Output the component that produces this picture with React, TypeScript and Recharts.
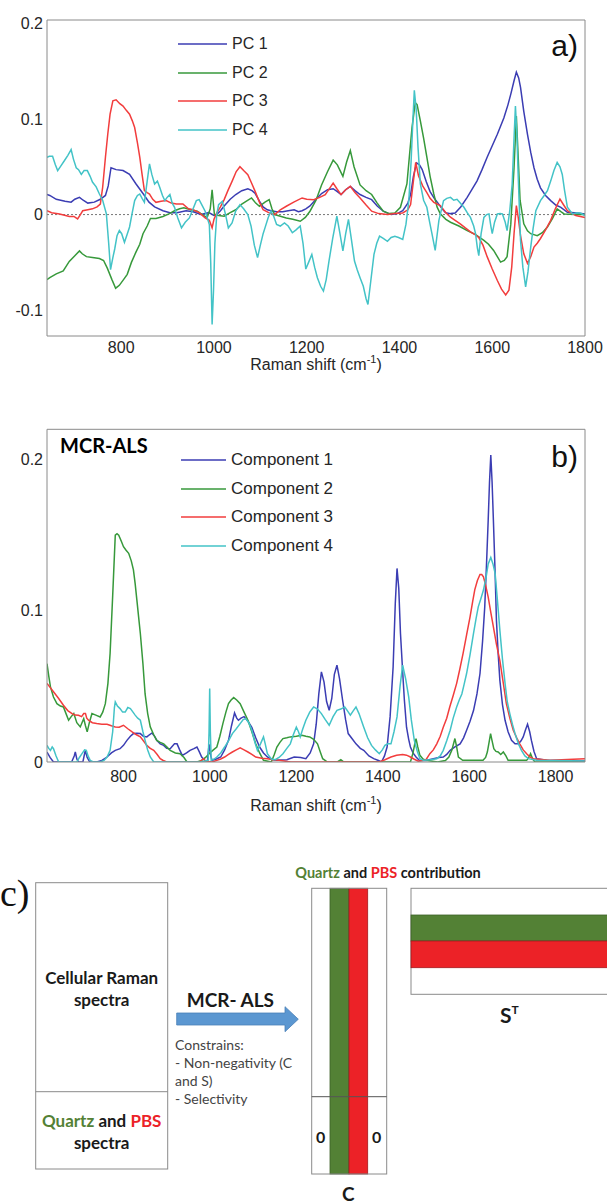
import { LineChart, Line, XAxis, YAxis, ReferenceLine, Legend, Label } from 'recharts'

type Pt = [number, number]

const SANS = '"Liberation Sans", Arial, Helvetica, sans-serif'
const CAL = 'Lato, "Open Sans", sans-serif'
const FRAME = '#8a8a8a'
const INK = '#262626'
const GREEN = '#538135'
const RED = '#ec2227'

const lineColors = ['#3b3db3', '#37993b', '#f23d3d', '#43c3c7']
const pcNames = ['PC 1', 'PC 2', 'PC 3', 'PC 4']
const componentNames = ['Component 1', 'Component 2', 'Component 3', 'Component 4']

const shiftTicks = [800, 1000, 1200, 1400, 1600, 1800]
const loadingTicks = [-0.1, 0, 0.1, 0.2]
const intensityTicks = [0, 0.1, 0.2]

// a) PCA loadings
const pc1: Pt[] = [[640,0.021],[646,0.02],[660,0.016],[679,0.014],[692,0.013],[700,0.016],[710,0.018],[718,0.015],[728,0.012],[742,0.013],[755,0.016],[766,0.02],[772,0.03],[778,0.049],[789,0.047],[804,0.046],[818,0.042],[832,0.032],[847,0.022],[860,0.013],[872,0.008],[890,0.004],[905,0.002],[920,0.002],[940,0.004],[955,0.003],[972,0],[989,0.002],[1000,-0.001],[1006,0],[1014,0.004],[1022,0.009],[1035,0.016],[1047,0.021],[1060,0.025],[1073,0.027],[1082,0.025],[1089,0.022],[1098,0.014],[1106,0.008],[1115,0.005],[1123,0.004],[1135,0.003],[1148,0.003],[1160,0.004],[1173,0.005],[1182,0.003],[1190,0.004],[1198,0.006],[1207,0.009],[1220,0.016],[1232,0.022],[1245,0.026],[1257,0.027],[1266,0.024],[1274,0.021],[1284,0.026],[1294,0.0295],[1304,0.025],[1315,0.021],[1328,0.018],[1340,0.0156],[1352,0.009],[1365,0.0035],[1382,0],[1395,0.001],[1407,0.004],[1418,0.012],[1424,0.021],[1430,0.04],[1437,0.054],[1443,0.052],[1449,0.047],[1458,0.034],[1466,0.024],[1475,0.017],[1483,0.012],[1492,0.006],[1499,0.002],[1510,0.001],[1520,0.0017],[1532,0.008],[1546,0.018],[1556,0.026],[1567,0.035],[1578,0.047],[1589,0.06],[1600,0.072],[1611,0.084],[1625,0.101],[1634,0.115],[1640,0.126],[1647,0.14],[1652,0.149],[1657,0.143],[1661,0.133],[1668,0.108],[1676,0.084],[1683,0.065],[1690,0.049],[1697,0.037],[1704,0.028],[1715,0.02],[1726,0.0146],[1737,0.01],[1748,0.0076],[1762,0.0024],[1784,0.0017],[1800,0.0007]]
const pc2: Pt[] = [[640,-0.068],[646,-0.066],[660,-0.062],[675,-0.059],[688,-0.049],[700,-0.043],[710,-0.038],[716,-0.041],[725,-0.044],[738,-0.045],[753,-0.046],[762,-0.048],[770,-0.056],[780,-0.068],[788,-0.077],[796,-0.074],[805,-0.068],[813,-0.0625],[822,-0.05],[832,-0.039],[840,-0.031],[847,-0.02],[856,-0.012],[863,-0.004],[875,-0.004],[890,-0.002],[904,0.001],[915,0.004],[926,0.006],[935,0.007],[950,0.005],[964,0.0035],[975,0],[985,-0.0035],[992,0.006],[996,0.026],[999,0.01],[1001,0],[1010,-0.001],[1022,-0.0017],[1035,0.002],[1047,0.005],[1060,0.011],[1070,0.014],[1081,0.0174],[1090,0.012],[1098,0.0087],[1110,0.013],[1119,0.0156],[1125,0.006],[1131,0],[1145,-0.002],[1156,-0.0035],[1170,-0.005],[1186,-0.007],[1197,-0.003],[1207,0.0035],[1220,0.015],[1232,0.031],[1245,0.045],[1257,0.057],[1266,0.052],[1278,0.04],[1286,0.055],[1294,0.067],[1302,0.05],[1315,0.031],[1328,0.025],[1340,0.021],[1352,0.012],[1365,0.0035],[1378,0.001],[1390,0.0017],[1402,0.0076],[1416,0.032],[1427,0.091],[1434,0.117],[1438,0.115],[1445,0.098],[1452,0.08],[1459,0.06],[1466,0.04],[1474,0.0215],[1481,0.008],[1488,0.0007],[1500,-0.005],[1510,-0.008],[1528,-0.012],[1546,-0.0167],[1564,-0.021],[1582,-0.027],[1592,-0.031],[1603,-0.0375],[1611,-0.044],[1618,-0.0497],[1626,-0.048],[1632,-0.044],[1640,-0.01],[1647,0.049],[1652,0.103],[1656,0.06],[1660,0.015],[1668,-0.0097],[1676,-0.017],[1683,-0.02],[1697,-0.022],[1708,-0.019],[1719,-0.013],[1730,-0.004],[1740,0.006],[1748,0.003],[1755,0.0007],[1780,0],[1800,0]]
const pc3: Pt[] = [[640,0.004],[650,0.002],[667,0.0007],[680,-0.001],[688,-0.002],[698,-0.002],[706,-0.0045],[712,0],[717,0.004],[728,0.005],[738,0.006],[748,0.008],[755,0.011],[760,0.0285],[766,0.06],[771,0.084],[776,0.105],[782,0.119],[789,0.12],[797,0.116],[804,0.1135],[811,0.109],[818,0.105],[824,0.098],[829,0.091],[835,0.075],[840,0.06],[845,0.042],[850,0.025],[856,0.023],[861,0.0215],[868,0.016],[875,0.0128],[886,0.014],[897,0.0146],[908,0.012],[919,0.011],[933,0.011],[945,0.006],[955,0.005],[968,0.002],[981,-0.0035],[990,-0.006],[996,-0.0139],[1000,-0.005],[1006,0.0017],[1014,0.008],[1022,0.0156],[1030,0.025],[1039,0.0347],[1048,0.045],[1056,0.05],[1064,0.046],[1073,0.0417],[1081,0.033],[1089,0.024],[1098,0.013],[1106,0.005],[1118,0.002],[1131,0],[1143,0.005],[1156,0.0087],[1172,0.013],[1190,0.0174],[1200,0.016],[1215,0.0156],[1228,0.018],[1240,0.0208],[1250,0.028],[1257,0.033],[1265,0.027],[1274,0.0208],[1284,0.026],[1294,0.0295],[1304,0.023],[1315,0.0174],[1328,0.01],[1340,0.0035],[1355,0.001],[1374,0],[1390,0.001],[1407,0.0017],[1418,0.005],[1424,0.0104],[1430,0.035],[1435,0.0545],[1441,0.0406],[1450,0.03],[1459,0.023],[1466,0.017],[1474,0.0128],[1488,0.0094],[1500,0.002],[1510,-0.0028],[1520,-0.006],[1531,-0.0097],[1542,-0.014],[1553,-0.018],[1563,-0.021],[1571,-0.024],[1580,-0.032],[1589,-0.044],[1600,-0.057],[1611,-0.069],[1620,-0.078],[1629,-0.084],[1636,-0.079],[1642,-0.055],[1647,-0.02],[1652,0.0094],[1656,-0.003],[1661,-0.022],[1668,-0.041],[1676,-0.051],[1683,-0.044],[1690,-0.034],[1697,-0.03],[1704,-0.025],[1715,-0.016],[1726,-0.006],[1736,0.006],[1746,0.0163],[1754,0.01],[1762,0.004],[1780,-0.001],[1800,-0.003]]
const pc4: Pt[] = [[640,0.06],[645,0.061],[652,0.061],[658,0.052],[663,0.046],[670,0.051],[677,0.056],[685,0.062],[692,0.068],[697,0.058],[703,0.049],[708,0.047],[714,0.042],[720,0.046],[727,0.046],[733,0.04],[738,0.034],[746,0.029],[753,0.0215],[760,0.015],[768,0.0007],[773,-0.03],[777,-0.0576],[782,-0.045],[786,-0.036],[791,-0.022],[796,-0.0167],[801,-0.02],[807,-0.029],[812,-0.022],[818,-0.013],[823,0],[829,0.0146],[835,0.02],[840,0.0215],[845,0.017],[850,0.0128],[856,0.035],[861,0.053],[866,0.042],[872,0.032],[878,0.035],[883,0.0285],[889,0.02],[894,0.0146],[899,0.018],[905,0.021],[910,0.012],[915,0.0076],[922,-0.0035],[930,-0.0139],[938,-0.008],[947,-0.0035],[955,0.006],[962,0.0146],[968,0.0156],[975,0.009],[981,0.0035],[986,-0.004],[990,-0.0104],[993,-0.05],[996,-0.115],[999,-0.08],[1002,-0.03],[1006,0],[1010,0.0104],[1018,0.0139],[1025,0],[1031,-0.0139],[1039,-0.0087],[1047,0.004],[1056,0.0104],[1064,0.006],[1073,0],[1080,-0.012],[1087,-0.032],[1094,-0.045],[1100,-0.032],[1106,-0.02],[1110,-0.0139],[1117,-0.003],[1123,0.0035],[1129,-0.002],[1135,-0.0104],[1143,-0.012],[1152,-0.0087],[1160,-0.012],[1169,-0.019],[1177,-0.016],[1186,-0.012],[1192,-0.03],[1198,-0.057],[1204,-0.05],[1211,-0.0417],[1217,-0.055],[1223,-0.066],[1230,-0.075],[1236,-0.08],[1242,-0.068],[1248,-0.0486],[1256,-0.025],[1265,-0.0017],[1271,-0.018],[1278,-0.038],[1284,-0.02],[1290,-0.005],[1296,-0.025],[1303,-0.0486],[1309,-0.058],[1315,-0.066],[1322,-0.075],[1328,-0.088],[1332,-0.094],[1338,-0.07],[1345,-0.0417],[1351,-0.03],[1357,-0.0226],[1365,-0.025],[1374,-0.028],[1382,-0.024],[1390,-0.0226],[1398,-0.024],[1407,-0.026],[1414,-0.01],[1420,0.0139],[1425,0.055],[1429,0.1],[1432,0.13],[1436,0.11],[1440,0.07],[1445,0.032],[1452,0.015],[1459,0.0076],[1465,-0.008],[1470,-0.02],[1477,-0.0375],[1485,-0.006],[1495,0.0146],[1502,0.017],[1510,0.018],[1517,0.015],[1524,0.016],[1531,0.012],[1539,0.0076],[1546,0.002],[1553,-0.003],[1560,-0.012],[1564,-0.02],[1568,-0.035],[1571,-0.043],[1576,-0.02],[1582,-0.003],[1588,0],[1593,0.0007],[1597,-0.012],[1600,-0.02],[1605,-0.008],[1611,0.0007],[1617,0.001],[1622,0.0007],[1628,-0.008],[1632,-0.0167],[1638,0.005],[1643,0.032],[1647,0.08],[1650,0.1135],[1653,0.085],[1656,0.04],[1661,-0.027],[1666,-0.055],[1672,-0.0757],[1677,-0.06],[1683,-0.034],[1688,-0.015],[1694,0.004],[1704,0.0146],[1712,0.02],[1719,0.025],[1726,0.035],[1733,0.046],[1740,0.0545],[1746,0.05],[1751,0.042],[1756,0.025],[1762,0.0076],[1773,0.0007],[1783,0.002],[1791,0.0014],[1800,-0.001]]

// b) MCR-ALS resolved spectra
const comp1: Pt[] = [[623,0.0066],[630,0.003],[638,0],[680,0],[686,0.004],[688.5,0.0066],[692,0.002],[696,0],[706,0],[711.6,0.0077],[716,0.003],[722,0],[738,0],[750,0.001],[762,0.0033],[772,0.006],[781,0.0077],[792,0.0088],[800,0.011],[808,0.0143],[816,0.017],[823,0.0188],[831,0.019],[839,0.0188],[846,0.017],[854,0.0166],[860,0.018],[866,0.0192],[872,0.017],[877,0.0143],[885,0.012],[893,0.011],[900,0.009],[908,0.0088],[918,0.012],[924,0.012],[930,0.008],[936,0.0044],[946,0.006],[954,0.0077],[963,0.0088],[970,0.0099],[975,0.007],[981,0.0033],[988,0.001],[994,0],[998,0.0117],[1002,0.004],[1005,0.0011],[1015,0.002],[1025,0.0033],[1034,0.008],[1043,0.0143],[1050,0.024],[1057,0.0325],[1062,0.029],[1066,0.0276],[1072,0.029],[1079,0.03],[1088,0.027],[1097,0.023],[1106,0.016],[1115,0.0099],[1124,0.006],[1133,0.0033],[1142,0.002],[1151,0.0011],[1165,0.0013],[1178,0.0015],[1195,0.0033],[1210,0.003],[1222,0.0022],[1232,0.006],[1240,0.012],[1246,0.025],[1252,0.045],[1258,0.0596],[1264,0.053],[1270,0.04],[1276,0.0342],[1282,0.042],[1288,0.058],[1294,0.064],[1300,0.055],[1307,0.041],[1314,0.028],[1320,0.0188],[1330,0.015],[1338,0.012],[1348,0.009],[1356,0.0077],[1368,0.004],[1379,0.0022],[1390,0.001],[1397,0],[1404,0.004],[1410,0.0099],[1417,0.03],[1424,0.063],[1429,0.105],[1433,0.128],[1437,0.115],[1441,0.085],[1446,0.06],[1450,0.041],[1455,0.023],[1460,0.015],[1464,0.0099],[1470,0.006],[1477,0.0033],[1485,0.001],[1500,0.001],[1517,0.0022],[1530,0.003],[1540,0.0033],[1548,0.005],[1556,0.0077],[1567,0.01],[1579,0.012],[1587,0.016],[1594,0.021],[1602,0.027],[1610,0.034],[1618,0.045],[1625,0.0585],[1631,0.08],[1636,0.1026],[1640,0.13],[1644,0.16],[1647,0.185],[1650,0.203],[1653,0.185],[1656,0.16],[1660,0.125],[1663,0.094],[1667,0.072],[1671,0.054],[1677,0.038],[1683,0.0276],[1690,0.02],[1698,0.0143],[1706,0.012],[1714,0.012],[1720,0.014],[1725,0.0166],[1730,0.021],[1735,0.025],[1740,0.02],[1744,0.0143],[1750,0.007],[1756,0.0022],[1779,0.0011],[1820,0.0009],[1868,0.0007]]
const comp2: Pt[] = [[623,0.065],[627,0.057],[631,0.0497],[638,0.043],[646,0.0386],[654,0.037],[661,0.0364],[667,0.032],[673,0.0276],[679,0.03],[685,0.032],[692,0.026],[700,0.0232],[704,0.026],[708,0.0287],[712,0.024],[716,0.0199],[721,0.026],[727,0.032],[736,0.031],[746,0.0298],[752,0.033],[758,0.0386],[764,0.052],[769,0.0717],[775,0.11],[781,0.15],[785,0.151],[789,0.15],[795,0.146],[800,0.1424],[806,0.14],[812,0.138],[818,0.133],[823,0.127],[827,0.118],[831,0.107],[835,0.096],[839,0.085],[845,0.065],[850,0.045],[856,0.032],[862,0.0232],[870,0.018],[877,0.0143],[885,0.013],[893,0.012],[900,0.01],[908,0.0077],[920,0.006],[931,0.0055],[940,0.003],[947,0],[970,0],[981,0.0011],[990,0.003],[998,0.0055],[1008,0.008],[1016,0.0099],[1023,0.017],[1030,0.0254],[1037,0.033],[1043,0.0386],[1049,0.041],[1055,0.0426],[1062,0.041],[1070,0.0386],[1079,0.033],[1088,0.0276],[1097,0.02],[1106,0.012],[1115,0.006],[1124,0.0011],[1142,0],[1149,0.005],[1155,0.0099],[1162,0.013],[1169,0.0155],[1178,0.016],[1186,0.0166],[1200,0.017],[1213,0.0177],[1222,0.017],[1231,0.0166],[1240,0.015],[1249,0.012],[1255,0.007],[1261,0.0022],[1272,0],[1295,0],[1303,0.0015],[1310,0],[1464,0],[1470,0.006],[1474,0.012],[1477,0.0155],[1481,0.01],[1486,0.0044],[1493,0.002],[1500,0.0011],[1527,0],[1545,0.001],[1553,0.0033],[1560,0.008],[1567,0.0155],[1571,0.01],[1575,0.0033],[1585,0.0011],[1632,0.0011],[1638,0.003],[1642,0.0066],[1646,0.013],[1649.5,0.0188],[1653,0.014],[1657,0.0088],[1662,0.007],[1667,0.0066],[1673,0.005],[1679,0.0066],[1685,0.004],[1690,0.0011],[1733,0.0011],[1738,0.003],[1742,0.0055],[1747,0.002],[1752,0],[1868,0]]
const comp3: Pt[] = [[623,0.052],[631,0.049],[638,0.0464],[650,0.042],[661,0.0375],[671,0.034],[681,0.032],[688,0.031],[696,0.0309],[703,0.03],[708,0.032],[712,0.032],[715,0.029],[719,0.0276],[728,0.026],[738,0.0254],[750,0.025],[762,0.025],[772,0.024],[781,0.0232],[790,0.023],[800,0.0243],[810,0.022],[820,0.0199],[830,0.018],[839,0.0166],[846,0.014],[854,0.011],[862,0.009],[870,0.0077],[878,0.005],[885,0.0022],[892,0.001],[900,0],[975,0],[985,0.0022],[990,0.0005],[1005,0],[1016,0.0011],[1025,0.002],[1034,0.0033],[1043,0.005],[1052,0.0066],[1061,0.008],[1070,0.0093],[1079,0.008],[1088,0.0066],[1097,0.005],[1106,0.0033],[1120,0.0025],[1133,0.0022],[1146,0.0015],[1160,0.0011],[1175,0.0005],[1187,0],[1392,0],[1405,0.0015],[1419,0.0033],[1432,0.0045],[1446,0.005],[1455,0.0045],[1464,0.0033],[1472,0.002],[1482,0.0005],[1492,0.001],[1500,0.0015],[1509,0.0055],[1517,0.008],[1525,0.012],[1533,0.017],[1540,0.023],[1548,0.029],[1555,0.0364],[1563,0.044],[1571,0.052],[1578,0.061],[1586,0.072],[1594,0.084],[1602,0.096],[1608,0.106],[1613,0.114],[1619,0.12],[1625,0.124],[1629,0.124],[1633,0.1225],[1638,0.117],[1644,0.109],[1650,0.099],[1656,0.0894],[1663,0.078],[1671,0.067],[1679,0.052],[1686,0.0386],[1694,0.029],[1702,0.021],[1710,0.016],[1717,0.012],[1725,0.008],[1733,0.0055],[1740,0.0035],[1748,0.0022],[1787,0.0011],[1868,0.0022]]
const comp4: Pt[] = [[623,0.011],[627,0.009],[631,0.0077],[635,0.01],[638,0.0088],[644,0.004],[650,0],[692,0],[698,0.003],[704,0.0055],[710,0.008],[714,0.0077],[718,0.004],[723,0.0011],[730,0],[746,0],[755,0.001],[762,0.0033],[769,0.0077],[775,0.02],[779,0.036],[781,0.0397],[786,0.037],[792,0.0353],[798,0.033],[804,0.033],[810,0.036],[816,0.0353],[822,0.033],[827,0.031],[833,0.029],[839,0.0276],[845,0.02],[850,0.0143],[856,0.008],[862,0.0033],[870,0],[980,0],[996,0.0011],[998,0.02],[999.5,0.0486],[1001,0.02],[1003,0.0011],[1010,0.002],[1016,0.0033],[1025,0.006],[1034,0.0099],[1043,0.014],[1052,0.0188],[1061,0.022],[1070,0.0254],[1077,0.028],[1083,0.0287],[1090,0.026],[1097,0.021],[1104,0.013],[1110,0.0077],[1117,0.012],[1124,0.0166],[1128,0.012],[1133,0.0055],[1142,0.002],[1151,0.0015],[1160,0.003],[1169,0.0055],[1178,0.009],[1186,0.012],[1193,0.018],[1200,0.023],[1205,0.02],[1209,0.0166],[1215,0.022],[1222,0.0276],[1231,0.033],[1240,0.0364],[1249,0.035],[1258,0.032],[1267,0.028],[1276,0.0243],[1285,0.03],[1294,0.0342],[1303,0.035],[1312,0.0364],[1318,0.034],[1325,0.031],[1332,0.034],[1338,0.0364],[1345,0.032],[1350,0.028],[1356,0.023],[1365,0.016],[1374,0.011],[1383,0.008],[1392,0.0055],[1399,0.008],[1405,0.011],[1412,0.012],[1419,0.012],[1426,0.02],[1433,0.0298],[1440,0.05],[1446,0.064],[1453,0.055],[1460,0.043],[1466,0.028],[1473,0.0143],[1480,0.007],[1486,0.0022],[1494,0.0011],[1510,0.0015],[1525,0.0022],[1533,0.004],[1540,0.0077],[1548,0.014],[1556,0.021],[1563,0.029],[1571,0.0364],[1577,0.041],[1583,0.045],[1588,0.051],[1594,0.0585],[1602,0.071],[1610,0.085],[1616,0.095],[1621,0.1026],[1627,0.108],[1633,0.1137],[1639,0.122],[1644,0.131],[1650,0.1353],[1655,0.131],[1660,0.1247],[1665,0.108],[1671,0.087],[1677,0.068],[1683,0.052],[1688,0.04],[1694,0.032],[1700,0.025],[1706,0.0188],[1714,0.012],[1721,0.0077],[1729,0.004],[1737,0.0022],[1756,0.0011],[1800,0.001],[1868,0.0007]]

const toRows = (pts: Pt[]) => pts.map(([x, y]) => ({ x, y }))

function LegendBox({ payload, lineW, gap, fontSize, rowH }: any) {
  return (
    <div style={{ fontFamily: SANS, fontSize, color: INK }}>
      {(payload || []).map((p: any) => (
        <div key={p.value} style={{ display: 'flex', alignItems: 'center', height: rowH }}>
          <svg width={lineW} height={4} style={{ marginRight: gap }}>
            <line x1={0} x2={lineW} y1={2} y2={2} stroke={p.color} strokeWidth={1.6} />
          </svg>
          <span>{p.value}</span>
        </div>
      ))}
    </div>
  )
}

function AxisTitle({ viewBox, dy }: any) {
  const cx = viewBox.x + viewBox.width / 2
  return (
    <text x={cx} y={viewBox.y + dy} textAnchor="middle" fontFamily={SANS} fontSize={16} fill={INK}>
      Raman shift (cm<tspan dy={-7} fontSize={11}>-1</tspan><tspan dy={7}>)</tspan>
    </text>
  )
}

function SpectraPanel(props: {
  series: Pt[][]
  names: string[]
  xDomain: [number, number]
  yDomain: [number, number]
  yTicks: number[]
  height: number
  top: number
  axisH: number
  tickGap: number
  titleDy: number
  legendLeft: number
  legendTop: number
  legendLine: number
  legendFont: number
  zero?: boolean
}) {
  const { series, names, xDomain, yDomain, yTicks, height, top, axisH, tickGap, titleDy } = props
  const tickStyle = { fontFamily: SANS, fontSize: 16, fill: INK }
  return (
    <LineChart width={607} height={height} margin={{ top, right: 22, bottom: 0, left: 0 }}>
      <XAxis xAxisId="x" type="number" dataKey="x" domain={xDomain} ticks={shiftTicks} allowDataOverflow
        height={axisH} tickLine={false} axisLine={false} tickSize={0} tickMargin={tickGap} tick={tickStyle}>
        <Label content={(p: any) => <AxisTitle viewBox={p.viewBox} dy={titleDy} />} />
      </XAxis>
      <XAxis xAxisId="xb" type="number" dataKey="x" orientation="bottom" mirror domain={xDomain} ticks={shiftTicks}
        allowDataOverflow tick={false} tickSize={5} tickLine={{ stroke: FRAME }} axisLine={{ stroke: FRAME }} />
      <XAxis xAxisId="xt" type="number" dataKey="x" orientation="top" mirror domain={xDomain} ticks={shiftTicks}
        allowDataOverflow tick={false} tickSize={5} tickLine={{ stroke: FRAME }} axisLine={{ stroke: FRAME }} />
      <YAxis yAxisId="y" type="number" domain={yDomain} ticks={yTicks} allowDataOverflow width={47}
        tickLine={false} axisLine={false} tickSize={0} tickMargin={4} tick={tickStyle} />
      <YAxis yAxisId="yl" type="number" orientation="left" mirror domain={yDomain} ticks={yTicks} allowDataOverflow
        tick={false} tickSize={5} tickLine={{ stroke: FRAME }} axisLine={{ stroke: FRAME }} />
      <YAxis yAxisId="yr" type="number" orientation="right" mirror domain={yDomain} ticks={yTicks} allowDataOverflow
        tick={false} tickSize={5} tickLine={{ stroke: FRAME }} axisLine={{ stroke: FRAME }} />
      {props.zero && (
        <ReferenceLine xAxisId="x" yAxisId="y" y={0} stroke="#777" strokeDasharray="2 2" strokeWidth={1} />
      )}
      {series.map((pts, i) => (
        <Line key={names[i]} xAxisId="x" yAxisId="y" data={toRows(pts)} dataKey="y" name={names[i]}
          type="linear" stroke={lineColors[i]} strokeWidth={1.5} dot={false} isAnimationActive={false} />
      ))}
      <Legend layout="vertical" align="center" verticalAlign="middle"
        wrapperStyle={{ left: props.legendLeft, top: props.legendTop, width: 'auto', height: 'auto' }}
        content={(p: any) => (
          <LegendBox payload={p.payload} lineW={props.legendLine} gap={5} fontSize={props.legendFont} rowH={28.6} />
        )} />
    </LineChart>
  )
}

function Diagram() {
  const txt = { fontFamily: CAL, fontWeight: 700, fill: '#1a1a1a' } as const
  const small = { fontFamily: CAL, fontSize: 14, fill: '#444' } as const
  return (
    <svg width={607} height={1204} style={{ position: 'absolute', left: 0, top: 0, pointerEvents: 'none' }}>
      <text x={578} y={56} textAnchor="end" fontFamily={SANS} fontSize={30} fill="#111">a)</text>
      <text x={578} y={467} textAnchor="end" fontFamily={SANS} fontSize={30} fill="#111">b)</text>
      <text x={60} y={453} fontSize={20} {...txt} fill="#000">MCR-ALS</text>

      <text x={0} y={906} fontFamily='"Liberation Serif", serif' fontSize={38} fill="#111">c)</text>

      <rect x={35.7} y={882.7} width={132} height={286.3} fill="none" stroke={FRAME} />
      <line x1={35.7} x2={167.7} y1={1091.7} y2={1091.7} stroke={FRAME} />
      <text x={101.7} y={984} textAnchor="middle" fontSize={17} {...txt}>Cellular Raman</text>
      <text x={101.7} y={1006} textAnchor="middle" fontSize={17} {...txt}>spectra</text>
      <text x={101.7} y={1127} textAnchor="middle" fontSize={17} {...txt}>
        <tspan fill={GREEN}>Quartz</tspan> and <tspan fill={RED}>PBS</tspan>
      </text>
      <text x={101.7} y={1149} textAnchor="middle" fontSize={17} {...txt}>spectra</text>

      <text x={186.7} y={1007} fontSize={19} {...txt}>MCR- ALS</text>
      <polygon points="176.7,1013 285,1013 285,1006.7 298.3,1019.2 285,1031.7 285,1025 176.7,1025"
        fill="#5b97d1" stroke="#4a80b8" strokeWidth={0.8} />
      <text x={175} y={1050} {...small}>Constrains:</text>
      <text x={175} y={1068} {...small}>- Non-negativity (C</text>
      <text x={175} y={1086} {...small}>and S)</text>
      <text x={175} y={1104} {...small}>- Selectivity</text>

      <text x={388} y={878} textAnchor="middle" fontSize={14.5} {...txt}>
        <tspan fill={GREEN}>Quartz</tspan> and <tspan fill={RED}>PBS</tspan> contribution
      </text>
      <rect x={330} y={888.3} width={19} height={285.7} fill={GREEN} stroke="#3e6228" strokeWidth={0.8} />
      <rect x={349} y={888.3} width={18.7} height={285.7} fill={RED} stroke="#a31a1e" strokeWidth={0.8} />
      <rect x={311.7} y={888.3} width={75} height={285.7} fill="none" stroke={FRAME} />
      <line x1={311.7} x2={386.7} y1={1096.7} y2={1096.7} stroke="#555" />
      <text x={320.7} y={1142.5} textAnchor="middle" fontSize={16} {...txt}>0</text>
      <text x={376.7} y={1142.5} textAnchor="middle" fontSize={16} {...txt}>0</text>
      <text x={348.3} y={1201} textAnchor="middle" fontSize={19} {...txt}>C</text>

      <rect x={411} y={888.3} width={215} height={106} fill="none" stroke={FRAME} />
      <rect x={411} y={915} width={215} height={26} fill={GREEN} stroke="#3e6228" strokeWidth={0.8} />
      <rect x={411} y={941} width={215} height={26.7} fill={RED} stroke="#a31a1e" strokeWidth={0.8} />
      <text x={500} y={1023} fontSize={21} {...txt}>S<tspan dy={-9} fontSize={12}>T</tspan></text>
    </svg>
  )
}

export default function App() {
  return (
    <div style={{ position: 'absolute', left: 0, top: 0, width: 607, height: 1204, background: '#fff' }}>
      <div style={{ position: 'absolute', left: 0, top: 0 }}>
        <SpectraPanel series={[pc1, pc2, pc3, pc4]} names={pcNames} xDomain={[640, 1800]} yDomain={[-0.127, 0.2035]}
          yTicks={loadingTicks} height={380} top={20} axisH={44} tickGap={6} titleDy={34}
          legendLeft={178} legendTop={30} legendLine={49} legendFont={16} zero />
      </div>
      <div style={{ position: 'absolute', left: 0, top: 400 }}>
        <SpectraPanel series={[comp1, comp2, comp3, comp4]} names={componentNames} xDomain={[623, 1868]}
          yDomain={[0, 0.22]} yTicks={intensityTicks} height={420} top={29.3} axisH={58} tickGap={9} titleDy={49}
          legendLeft={181} legendTop={45.7} legendLine={45} legendFont={17} />
      </div>
      <Diagram />
    </div>
  )
}
